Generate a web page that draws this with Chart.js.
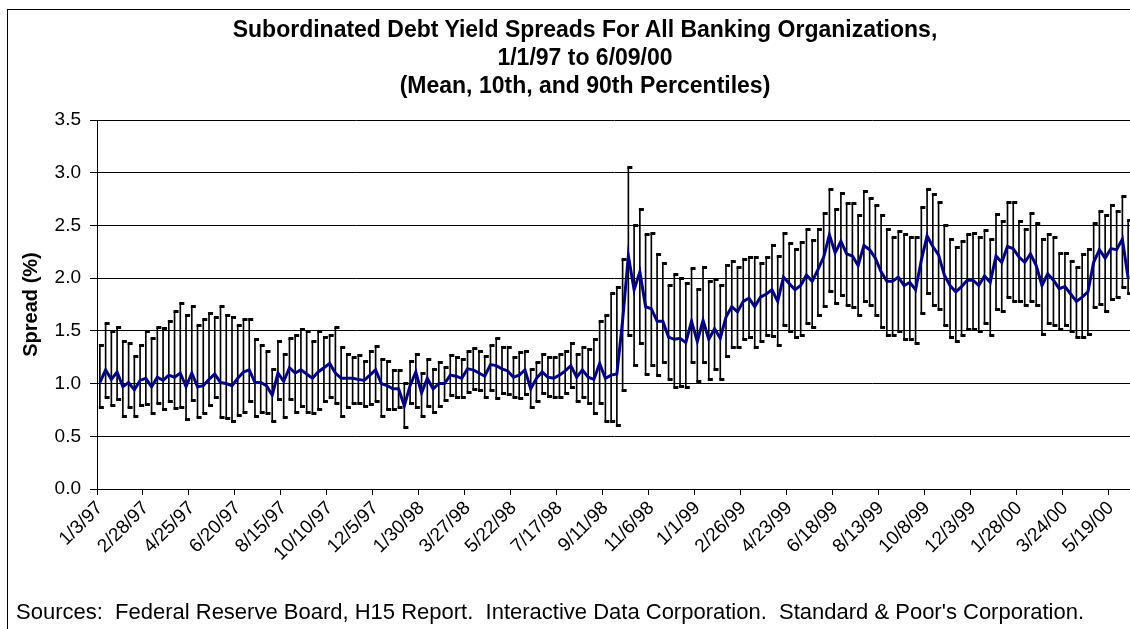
<!DOCTYPE html>
<html>
<head>
<meta charset="utf-8">
<script src="https://cdn.jsdelivr.net/npm/chart.js@4.4.0/dist/chart.umd.min.js"></script>
<style>
  html, body { margin: 0; padding: 0; background: #fff; overflow: hidden; }
  #wrap { position: relative; width: 1130px; height: 629px; overflow: hidden; }
  #frame { position: absolute; left: 7px; top: 9px; width: 1200px; height: 700px; border: 1px solid #000; }
  #title { position: absolute; left: 0; top: 15px; width: 1170px; text-align: center;
           font: bold 23px "Liberation Sans", Arial, sans-serif; line-height: 28px; color: #000; }
  #sources { position: absolute; left: 16px; top: 600px; white-space: pre;
             font: 22px "Liberation Sans", Arial, sans-serif; line-height: 24px; color: #000; }
  canvas { position: absolute; left: 0; top: 0; }
</style>
</head>
<body>
<div id="wrap">
  <div id="frame"></div>
  <canvas id="chart" width="1136" height="629"></canvas>
  <div id="title">Subordinated Debt Yield Spreads For All Banking Organizations,<br>1/1/97 to 6/09/00<br>(Mean, 10th, and 90th Percentiles)</div>
  <div id="sources">Sources:  Federal Reserve Board, H15 Report.  Interactive Data Corporation.  Standard &amp; Poor's Corporation.</div>
</div>
<script>
// weekly observations, first week 1/3/97
const firstWeek = [1997, 0, 3];
const labelEvery = 8;

// 90th percentile
const p90 = [
  1.36, 1.57, 1.49, 1.53, 1.40, 1.38, 1.26, 1.36, 1.49, 1.43,
  1.53, 1.52, 1.59, 1.68, 1.76, 1.65, 1.73, 1.55, 1.61, 1.66,
  1.63, 1.73, 1.65, 1.63, 1.55, 1.61, 1.61, 1.42, 1.36, 1.30,
  1.13, 1.40, 1.28, 1.43, 1.46, 1.51, 1.49, 1.40, 1.49, 1.44,
  1.46, 1.53, 1.34, 1.28, 1.25, 1.27, 1.21, 1.30, 1.35, 1.23,
  1.21, 1.12, 1.12, 1.00, 1.21, 1.28, 1.10, 1.23, 1.13, 1.20,
  1.15, 1.27, 1.25, 1.23, 1.30, 1.33, 1.30, 1.26, 1.36, 1.43,
  1.34, 1.34, 1.25, 1.29, 1.30, 1.13, 1.20, 1.28, 1.25, 1.25,
  1.28, 1.30, 1.38, 1.28, 1.34, 1.32, 1.42, 1.59, 1.65, 1.85,
  1.91, 2.18, 3.05, 2.50, 2.65, 2.41, 2.42, 2.22, 2.14, 1.93,
  2.03, 2.00, 1.95, 2.09, 1.89, 2.10, 1.97, 1.99, 1.93, 2.12,
  2.16, 2.10, 2.18, 2.20, 2.20, 2.14, 2.20, 2.31, 2.21, 2.42,
  2.33, 2.27, 2.34, 2.46, 2.36, 2.46, 2.61, 2.84, 2.65, 2.80,
  2.71, 2.71, 2.59, 2.82, 2.76, 2.69, 2.59, 2.46, 2.39, 2.44,
  2.41, 2.39, 2.39, 2.67, 2.84, 2.79, 2.72, 2.50, 2.37, 2.29,
  2.35, 2.41, 2.42, 2.39, 2.45, 2.37, 2.60, 2.54, 2.72, 2.72,
  2.54, 2.46, 2.61, 2.52, 2.37, 2.41, 2.39, 2.23, 2.23, 2.16,
  2.10, 2.22, 2.27, 2.52, 2.63, 2.59, 2.69, 2.63, 2.77, 2.55
];

// 10th percentile
const p10 = [
  0.77, 0.87, 0.79, 0.85, 0.69, 0.77, 0.69, 0.79, 0.80, 0.72,
  0.81, 0.75, 0.83, 0.76, 0.77, 0.66, 0.84, 0.68, 0.72, 0.79,
  0.87, 0.68, 0.67, 0.64, 0.70, 0.73, 0.83, 0.69, 0.73, 0.72,
  0.64, 0.85, 0.68, 0.85, 0.73, 0.78, 0.73, 0.72, 0.75, 0.83,
  0.87, 0.81, 0.69, 0.77, 0.81, 0.81, 0.78, 0.80, 0.83, 0.69,
  0.75, 0.75, 0.77, 0.58, 0.81, 0.77, 0.69, 0.78, 0.73, 0.78,
  0.84, 0.89, 0.87, 0.87, 0.92, 0.94, 0.93, 0.87, 0.93, 0.86,
  0.91, 0.90, 0.87, 0.86, 0.90, 0.77, 0.83, 0.91, 0.88, 0.87,
  0.87, 0.91, 0.96, 0.83, 0.87, 0.81, 0.72, 0.81, 0.64, 0.64,
  0.60, 0.93, 1.46, 1.17, 1.38, 1.09, 1.17, 1.08, 1.20, 1.04,
  0.96, 0.97, 0.96, 1.20, 1.02, 1.20, 1.04, 1.13, 1.04, 1.26,
  1.34, 1.34, 1.42, 1.44, 1.34, 1.40, 1.46, 1.45, 1.36, 1.55,
  1.49, 1.44, 1.46, 1.57, 1.53, 1.65, 1.73, 1.87, 1.76, 1.84,
  1.74, 1.72, 1.65, 1.78, 1.74, 1.65, 1.53, 1.46, 1.46, 1.49,
  1.42, 1.42, 1.38, 1.66, 1.85, 1.74, 1.70, 1.55, 1.44, 1.40,
  1.46, 1.51, 1.51, 1.49, 1.57, 1.46, 1.70, 1.68, 1.82, 1.78,
  1.78, 1.74, 1.78, 1.74, 1.47, 1.57, 1.55, 1.51, 1.55, 1.49,
  1.44, 1.44, 1.47, 1.72, 1.75, 1.68, 1.80, 1.82, 1.91, 1.85
];

// mean spread
const meanSpread = [
  1.01, 1.13, 1.04, 1.11, 0.97, 1.01, 0.94, 1.03, 1.05, 0.97,
  1.06, 1.03, 1.08, 1.06, 1.10, 0.97, 1.10, 0.97, 0.98, 1.04,
  1.09, 1.01, 1.00, 0.98, 1.05, 1.11, 1.13, 1.01, 1.01, 0.98,
  0.89, 1.10, 1.02, 1.15, 1.10, 1.13, 1.09, 1.05, 1.11, 1.15,
  1.19, 1.10, 1.05, 1.05, 1.05, 1.04, 1.03, 1.08, 1.13, 1.00,
  0.98, 0.95, 0.95, 0.79, 0.98, 1.11, 0.91, 1.05, 0.95, 1.00,
  1.00, 1.08, 1.07, 1.05, 1.14, 1.13, 1.10, 1.07, 1.18, 1.17,
  1.14, 1.12, 1.06, 1.08, 1.13, 0.95, 1.05, 1.11, 1.06, 1.05,
  1.08, 1.12, 1.17, 1.06, 1.13, 1.06, 1.04, 1.19, 1.05, 1.08,
  1.09, 1.60, 2.21, 1.89, 2.06, 1.73, 1.71, 1.59, 1.59, 1.44,
  1.42, 1.43, 1.39, 1.59, 1.40, 1.60, 1.42, 1.52, 1.43, 1.63,
  1.73, 1.68, 1.78, 1.81, 1.73, 1.82, 1.85, 1.89, 1.78, 2.01,
  1.95, 1.89, 1.93, 2.03, 1.97, 2.08, 2.20, 2.41, 2.24, 2.35,
  2.23, 2.21, 2.12, 2.31, 2.27, 2.19, 2.06, 1.97, 1.97, 2.01,
  1.93, 1.96, 1.89, 2.17, 2.40, 2.30, 2.22, 2.03, 1.93, 1.87,
  1.92, 1.98, 1.98, 1.93, 2.02, 1.96, 2.21, 2.15, 2.30, 2.28,
  2.20, 2.15, 2.23, 2.12, 1.93, 2.04, 1.98, 1.90, 1.92, 1.85,
  1.78, 1.82, 1.87, 2.15, 2.27, 2.19, 2.28, 2.27, 2.37, 2.00
];

const yTicks = [0, 0.5, 1.0, 1.5, 2.0, 2.5, 3.0, 3.5];

// category labels m/d/yy, one per week
const weeks = [];
for (let i = 0; i < meanSpread.length; i++) {
  const d = new Date(firstWeek[0], firstWeek[1], firstWeek[2] + 7 * i);
  weeks.push((d.getMonth() + 1) + '/' + d.getDate() + '/' + String(d.getFullYear()).slice(2));
}

// little dash marker like the excel one, sits a bit right of the line
function dashMarker() {
  const c = document.createElement('canvas');
  c.width = 10; c.height = 3;
  const g = c.getContext('2d');
  g.fillStyle = '#000';
  g.fillRect(4, 0, 5, 3);
  return c;
}
const dash = dashMarker();

const FONT = '"Liberation Sans", Arial, sans-serif';

new Chart(document.getElementById('chart').getContext('2d'), {
  type: 'bar',
  data: {
    labels: weeks,
    datasets: [
      {
        type: 'line',
        data: meanSpread,
        borderColor: '#000080',
        borderWidth: 3,
        pointRadius: 0,
        tension: 0,
        order: 0
      },
      {
        type: 'line',
        data: p90,
        showLine: false,
        pointStyle: dash,
        order: 1
      },
      {
        type: 'line',
        data: p10,
        showLine: false,
        pointStyle: dash,
        order: 1
      },
      {
        type: 'bar',
        data: p10.map((lo, i) => [lo, p90[i]]),
        backgroundColor: '#000',
        borderWidth: 0,
        barThickness: 1,
        order: 2
      }
    ]
  },
  options: {
    responsive: false,
    animation: false,
    devicePixelRatio: 1,
    layout: { padding: { left: 16, top: 120, right: 0, bottom: 30 } },
    plugins: {
      legend: { display: false },
      tooltip: { enabled: false },
      title: { display: false }
    },
    scales: {
      x: {
        offset: true,
        grid: {
          display: true,
          drawOnChartArea: false,
          drawTicks: true,
          tickLength: 6,
          offset: true,
          lineWidth: 1,
          color: ctx => (ctx.index % labelEvery === 0 ? '#000' : 'rgba(0,0,0,0)')
        },
        border: { display: true, color: '#000', width: 1 },
        ticks: {
          autoSkip: false,
          minRotation: 45,
          maxRotation: 45,
          padding: 2,
          color: '#000',
          font: { family: FONT, size: 19 },
          callback: function (v, i) {
            return i % labelEvery === 0 ? this.getLabelForValue(v) : '';
          }
        },
        afterFit: s => { s.height = 110; s.paddingLeft = 0; s.paddingRight = 0; }
      },
      y: {
        min: yTicks[0],
        max: yTicks[yTicks.length - 1],
        afterBuildTicks: s => { s.ticks = yTicks.map(v => ({ value: v })); },
        ticks: {
          color: '#000',
          padding: 9,
          font: { family: FONT, size: 19 },
          callback: v => Number(v).toFixed(1)
        },
        grid: { color: '#000', lineWidth: 1, tickLength: 7, drawTicks: true },
        border: { display: true, color: '#000', width: 1 },
        title: {
          display: true,
          text: 'Spread (%)',
          color: '#000',
          font: { family: FONT, size: 20, weight: 'bold' },
          padding: { top: 3, bottom: 0 }
        },
        afterFit: s => { s.width = 81; }
      }
    }
  }
});
</script>
</body>
</html>
